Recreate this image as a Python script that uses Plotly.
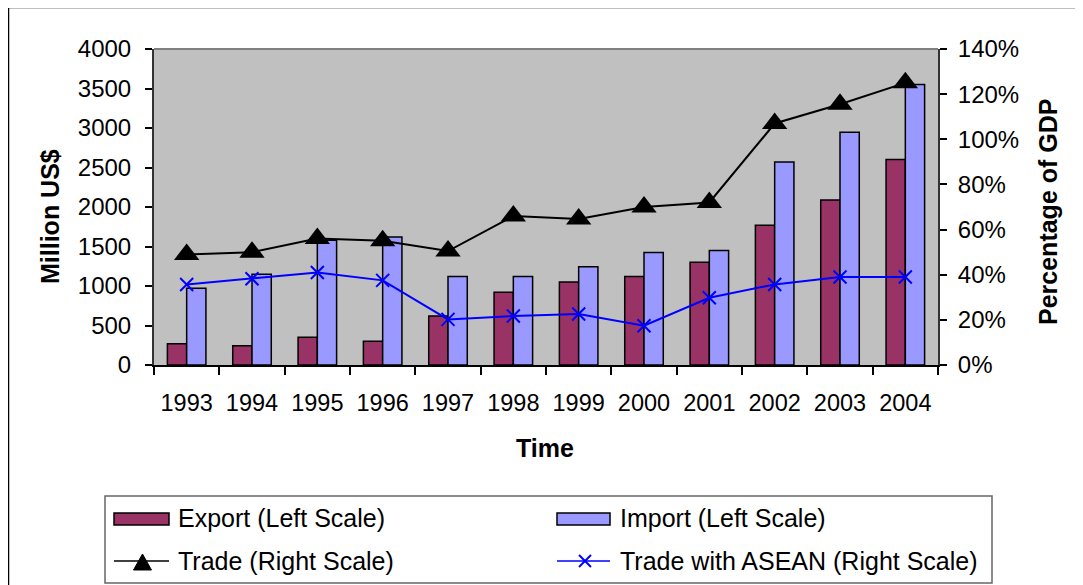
import plotly.graph_objects as go

years = ["1993", "1994", "1995", "1996", "1997", "1998", "1999", "2000", "2001", "2002", "2003", "2004"]
export_vals = [270, 245, 350, 300, 620, 920, 1050, 1120, 1300, 1770, 2090, 2600]
import_vals = [970, 1150, 1580, 1620, 1120, 1120, 1245, 1425, 1450, 2570, 2945, 3550]
trade_pct = [0.49, 0.50, 0.56, 0.55, 0.505, 0.66, 0.647, 0.70, 0.72, 1.07, 1.155, 1.25]
asean_pct = [0.357, 0.382, 0.41, 0.375, 0.202, 0.217, 0.226, 0.174, 0.298, 0.357, 0.39, 0.39]

left_ticks = [0, 500, 1000, 1500, 2000, 2500, 3000, 3500, 4000]
right_ticks = [0, 0.2, 0.4, 0.6, 0.8, 1.0, 1.2, 1.4]

OFF = 8  # browser body margin
W, H = 1083 - OFF, 585 - OFF
PL, PR, PT, PB = 154, 938, 49, 365  # target page coords of plot area
FONT = "Liberation Sans, Arial, sans-serif"
TFS = 24
LFS = 25
BFS = 25


def px(x):
    return (x - PL) / (PR - PL)


def py(y):
    return (PB - y) / (PB - PT)


fig = go.Figure()
fig.add_trace(go.Bar(x=years, y=export_vals, name="Export (Left Scale)",
                     marker=dict(color="#993366", line=dict(color="black", width=1.5)),
                     yaxis="y"))
fig.add_trace(go.Bar(x=years, y=import_vals, name="Import (Left Scale)",
                     marker=dict(color="#9999FF", line=dict(color="black", width=1.5)),
                     yaxis="y"))
fig.add_trace(go.Scatter(x=years, y=trade_pct, name="Trade (Right Scale)", mode="lines+markers",
                         line=dict(color="black", width=2),
                         marker=dict(symbol="triangle-up", size=22, color="black"),
                         yaxis="y2"))
fig.add_trace(go.Scatter(x=years, y=asean_pct, name="Trade with ASEAN (Right Scale)", mode="lines+markers",
                         line=dict(color="#0000FF", width=2),
                         marker=dict(symbol="x-thin", size=13, line=dict(color="#0000FF", width=2)),
                         yaxis="y2"))

shapes = []
# outer frame
shapes.append(dict(type="rect", xref="paper", yref="paper",
                   x0=px(8.5), x1=px(1095), y0=py(600), y1=py(7.5),
                   line=dict(color="black", width=1.5), fillcolor="rgba(0,0,0,0)", layer="below"))
# top border of plot area
shapes.append(dict(type="line", xref="paper", yref="paper", x0=0, x1=1, y0=1, y1=1,
                   line=dict(color="#808080", width=2)))
# legend box
shapes.append(dict(type="rect", xref="paper", yref="paper",
                   x0=px(105), x1=px(992), y0=py(583), y1=py(496),
                   line=dict(color="#666666", width=1.5), fillcolor="white"))
# legend swatches
shapes.append(dict(type="rect", xref="paper", yref="paper",
                   x0=px(114), x1=px(169), y0=py(525), y1=py(513),
                   line=dict(color="black", width=1.5), fillcolor="#993366"))
shapes.append(dict(type="rect", xref="paper", yref="paper",
                   x0=px(557), x1=px(610), y0=py(525), y1=py(513),
                   line=dict(color="black", width=1.5), fillcolor="#9999FF"))
shapes.append(dict(type="line", xref="paper", yref="paper",
                   x0=px(114), x1=px(169), y0=py(561), y1=py(561),
                   line=dict(color="black", width=1.5)))
shapes.append(dict(type="path", xref="paper", yref="paper",
                   path="M %f,%f L %f,%f L %f,%f Z" % (px(142.5), py(554), px(133.5), py(570), px(151.5), py(570)),
                   line=dict(color="black", width=1), fillcolor="black"))
shapes.append(dict(type="line", xref="paper", yref="paper",
                   x0=px(557), x1=px(610), y0=py(561), y1=py(561),
                   line=dict(color="#0000FF", width=1.5)))
shapes.append(dict(type="line", xref="paper", yref="paper",
                   x0=px(579), x1=px(591), y0=py(555), y1=py(567),
                   line=dict(color="#0000FF", width=2)))
shapes.append(dict(type="line", xref="paper", yref="paper",
                   x0=px(579), x1=px(591), y0=py(567), y1=py(555),
                   line=dict(color="#0000FF", width=2)))

annotations = [
    dict(text="<b>Million US$</b>", x=px(50), y=py(217), xref="paper", yref="paper", textangle=-90,
         showarrow=False, xanchor="center", yanchor="middle", font=dict(size=BFS, color="black", family=FONT)),
    dict(text="<b>Percentage of GDP</b>", x=px(1048), y=py(212), xref="paper", yref="paper", textangle=-90,
         showarrow=False, xanchor="center", yanchor="middle", font=dict(size=BFS, color="black", family=FONT)),
    dict(text="<b>Time</b>", x=px(545), y=py(448), xref="paper", yref="paper",
         showarrow=False, xanchor="center", yanchor="middle", font=dict(size=BFS, color="black", family=FONT)),
    dict(text="Export (Left Scale)", x=px(176), y=py(518), xref="paper", yref="paper",
         showarrow=False, xanchor="left", yanchor="middle", font=dict(size=LFS, color="black", family=FONT)),
    dict(text="Import (Left Scale)", x=px(618), y=py(518), xref="paper", yref="paper",
         showarrow=False, xanchor="left", yanchor="middle", font=dict(size=LFS, color="black", family=FONT)),
    dict(text="Trade (Right Scale)", x=px(176), y=py(561), xref="paper", yref="paper",
         showarrow=False, xanchor="left", yanchor="middle", font=dict(size=LFS, color="black", family=FONT)),
    dict(text="Trade with ASEAN (Right Scale)", x=px(618), y=py(561), xref="paper", yref="paper",
         showarrow=False, xanchor="left", yanchor="middle", font=dict(size=LFS, color="black", family=FONT)),
]

fig.update_layout(
    width=W, height=H, autosize=False,
    margin=dict(l=PL - OFF, r=(1083 - OFF) - (PR - OFF), t=PT - OFF, b=(585 - OFF) - (PB - OFF), pad=0),
    paper_bgcolor="white", plot_bgcolor="#C0C0C0",
    barmode="group", bargap=0.41, bargroupgap=0,
    showlegend=False,
    font=dict(family=FONT, size=TFS, color="black"),
    xaxis=dict(type="category", range=[-0.5, len(years) - 0.5], showgrid=False, zeroline=False, showline=True,
               linecolor="black", linewidth=1.5, ticks="outside", tickson="boundaries",
               ticklen=8, tickcolor="black", tickwidth=1.5, tickangle=0,
               tickfont=dict(size=23.5, family=FONT, color="black"), ticklabelstandoff=16),
    yaxis=dict(range=[0, 4000], tickvals=left_ticks, showgrid=False, zeroline=False,
               showline=True, linecolor="#333333", linewidth=2, ticks="outside",
               ticklen=7, tickcolor="black", tickwidth=1.5, tickformat="d",
               tickfont=dict(size=TFS, family=FONT, color="black"), ticklabelstandoff=9),
    yaxis2=dict(range=[0, 1.4], tickvals=right_ticks, overlaying="y", side="right",
                showgrid=False, zeroline=False, showline=True, linecolor="#333333", linewidth=2,
                ticks="outside", ticklen=7, tickcolor="black", tickwidth=1.5, tickformat=".0%",
                tickfont=dict(size=TFS, family=FONT, color="black"), ticklabelstandoff=6),
    shapes=shapes,
    annotations=annotations,
)

fig.write_html("out.html")
